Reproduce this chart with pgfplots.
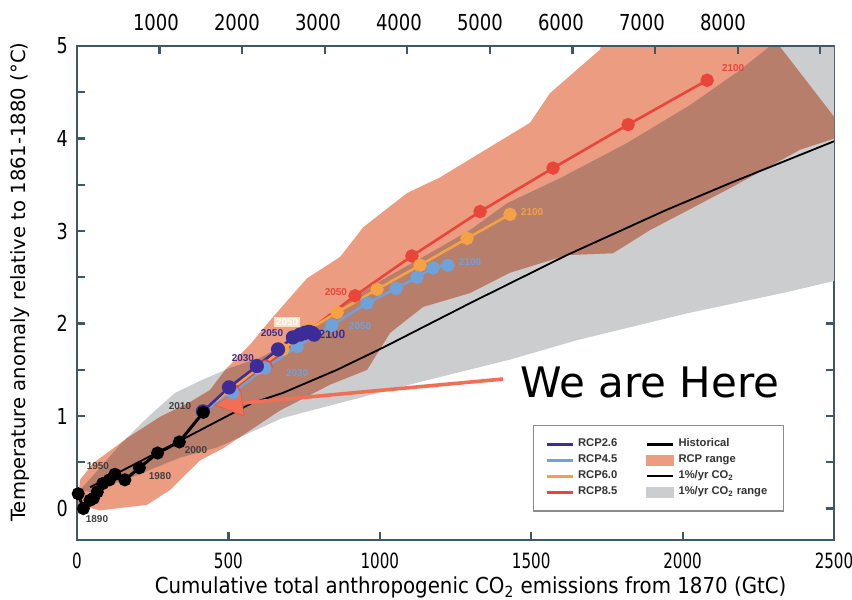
\documentclass[border=0pt]{standalone}
\usepackage{fontspec}
\setmainfont{DejaVu Sans}
\newfontfamily\xtfam{DejaVu Sans}[FakeStretch=0.72]
\newfontfamily\ttfam{DejaVu Sans}[FakeStretch=0.82]
\newfontfamily\ytfam{DejaVu Sans}[FakeStretch=0.8]
\newfontfamily\xlfam{DejaVu Sans}[FakeStretch=0.9]
\newfontfamily\legfam{Liberation Sans}
\newcommand\xtf{\xtfam\fontsize{10.5}{10.5}\selectfont}
\newcommand\ttf{\ttfam\fontsize{11}{11}\selectfont}
\newcommand\ytf{\ytfam\fontsize{11}{11}\selectfont}
\newcommand\xlf{\xlfam\fontsize{11}{11}\selectfont}
\newcommand\ylf{\fontsize{9.8}{9.8}\selectfont}
\newcommand\lgf{\legfam\bfseries\fontsize{5.6}{6}\selectfont}
\newcommand\yrf{\legfam\bfseries\fontsize{5}{5}\selectfont}
\usepackage{pgfplots}
\pgfplotsset{compat=1.18}
\definecolor{axc}{HTML}{3E5866}
\definecolor{rcpA}{HTML}{3B2C97}
\definecolor{rcpB}{HTML}{6FA2D9}
\definecolor{rcpC}{HTML}{F4A245}
\definecolor{rcpD}{HTML}{E9453A}
\definecolor{salm}{HTML}{EC9C80}
\definecolor{brwn}{HTML}{B67E6B}
\definecolor{grey1}{HTML}{CBCDCE}
\definecolor{arr}{HTML}{F26F55}
\begin{document}
\begin{tikzpicture}
\useasboundingbox (0,0) rectangle (426pt,300pt);
\begin{axis}[
 at={(38.5pt,30pt)}, anchor=south west,
 scale only axis, width=378.5pt, height=247pt,
 xmin=0, xmax=2500, ymin=-0.34, ymax=5,
 xtick={0,500,...,2500}, ytick={0,1,...,5}, minor ytick={0.5,1.5,...,4.5},
 xtick pos=left, tick align=inside,
 major tick length=4pt, minor tick length=4pt,
 tick style={color=axc, line width=1.1pt},
 axis line style={color=axc, line width=1.3pt},
 /pgf/number format/assume math mode=true,
 /pgf/number format/1000 sep={},
 xticklabel style={font=\xtf, yshift=-3pt},
 yticklabel style={font=\ytf, xshift=-1pt},
 xlabel={Cumulative total anthropogenic CO\textsubscript{2} emissions from 1870 (GtC)},
 ylabel={Temperature anomaly relative to 1861-1880 (°C)},
 xlabel style={font=\xlf, at={(axis description cs:0.52,-0.097)}, anchor=center},
 ylabel style={font=\ylf, at={(axis description cs:-0.075,0.522)}, anchor=center},
 legend columns=2,
 legend cell align=left,
 legend image code/.code={\draw[#1] (0pt,0pt) -- (13pt,0pt);},
 legend style={at={(0.602,0.233)}, anchor=north west, draw=black!45, line width=0.6pt, fill=white, font=\lgf, text=black!80, inner xsep=6pt, inner ysep=6pt, row sep=1.3pt, nodes={inner ysep=0.6pt}, /tikz/every even column/.append style={column sep=12pt}},
]
% legend entries
\addlegendimage{rcpA, line width=1.4pt}\addlegendentry{RCP2.6}
\addlegendimage{black, line width=1.6pt}\addlegendentry{Historical}
\addlegendimage{rcpB, line width=1.4pt}\addlegendentry{RCP4.5}
\addlegendimage{legend image code/.code={\fill[salm] (0pt,-2.5pt) rectangle (13pt,2.5pt);}}\addlegendentry{RCP range}
\addlegendimage{rcpC, line width=1.4pt}\addlegendentry{RCP6.0}
\addlegendimage{black, line width=0.8pt}\addlegendentry{1\%/yr CO\textsubscript{2}}
\addlegendimage{rcpD, line width=1.4pt}\addlegendentry{RCP8.5}
\addlegendimage{legend image code/.code={\fill[grey1] (0pt,-2.5pt) rectangle (13pt,2.5pt);}}\addlegendentry{1\%/yr CO\textsubscript{2} range}

% 1%/yr CO2 range (grey)
\addplot[fill=grey1, draw=none, forget plot] coordinates {
(10,0.20) (76,0.44) (142,0.69) (241,1.01) (324,1.25) (406,1.38) (505,1.52) (604,1.63) (736,1.85) (859,2.15) (991,2.44) (1143,2.72) (1298,3.01) (1420,3.30) (1595,3.57) (1816,3.95) (2024,4.36) (2190,4.74) (2289,5.00) (2289,5.2) (2520,5.2)
(2520,2.47) (2500,2.46) (2345,2.34) (2015,2.11) (1651,1.82) (1430,1.61) (1123,1.36) (902,1.17) (680,0.98) (462,0.66) (340,0.55) (175,0.33) (43,0.18)};
% RCP range (salmon)
\addplot[fill=salm, draw=none, forget plot] coordinates {
(3,0.04) (10,0.31) (53,0.49) (165,0.76) (274,0.99) (373,1.15) (439,1.28) (495,1.52) (571,1.77) (647,2.07) (760,2.49) (869,2.72) (945,3.04) (1090,3.41) (1199,3.58) (1496,4.17) (1562,4.49) (1727,4.96) (1747,5.2) (2272,5.2) (2520,4.15)
(2520,4.02) (2388,3.88) (2166,3.48) (1892,3.01) (1770,2.76) (1618,2.74) (1430,2.55) (1298,2.33) (1143,2.18) (1034,1.90) (958,1.50) (836,1.34) (670,1.06) (482,0.65) (406,0.52) (307,0.20) (231,0.04) (76,-0.02)};
% overlap of the two ranges
\addplot[fill=brwn, draw=none, forget plot] coordinates {
(10,0.20) (76,0.44) (142,0.69) (165,0.76) (274,0.99) (373,1.15) (439,1.28) (490,1.50) (505,1.52) (604,1.63) (736,1.85) (859,2.15) (991,2.44) (1143,2.72) (1298,3.01) (1420,3.30) (1595,3.57) (1816,3.95) (2024,4.36) (2190,4.74) (2289,5.0) (2289,5.13) (2520,4.15)
(2520,4.02) (2388,3.88) (2166,3.48) (1892,3.01) (1770,2.76) (1618,2.74) (1430,2.55) (1298,2.33) (1143,2.18) (1034,1.90) (958,1.50) (836,1.34) (670,1.06) (537,0.77) (462,0.66) (340,0.55) (175,0.33) (43,0.18)};
% 1%/yr CO2
\addplot[black, line width=0.9pt, forget plot] coordinates {
(43,0.23) (350,0.75) (578,1.14) (680,1.25) (859,1.50) (1011,1.74) (1298,2.22) (1618,2.74) (1948,3.23) (2166,3.53) (2500,3.97)};
% RCP8.5
\addplot[rcpD, line width=1.3pt, mark=*, mark size=2.7pt, forget plot] coordinates {
(416,1.05) (515,1.28) (624,1.54) (753,1.89) (918,2.30) (1106,2.73) (1331,3.21) (1572,3.68) (1820,4.15) (2081,4.63)};
% RCP6.0
\addplot[rcpC, line width=1.3pt, mark=*, mark size=2.7pt, forget plot] coordinates {
(416,1.05) (505,1.28) (598,1.52) (680,1.72) (763,1.93) (859,2.12) (991,2.37) (1133,2.63) (1288,2.92) (1430,3.18)};
% RCP4.5
\addplot[rcpB, line width=1.3pt, mark=*, mark size=2.7pt, forget plot] coordinates {
(416,1.05) (515,1.25) (621,1.52) (727,1.75) (842,1.98) (958,2.22) (1054,2.38) (1123,2.50) (1176,2.60) (1225,2.63)};
% RCP2.6
\addplot[rcpA, line width=1.3pt, mark=*, mark size=2.9pt, forget plot] coordinates {
(416,1.05) (502,1.31) (594,1.54) (664,1.72) (713,1.85) (736,1.88) (753,1.90) (766,1.91) (776,1.90) (783,1.88)};
% Historical
\addplot[black, line width=1.5pt, mark=*, mark size=2.5pt, forget plot] coordinates {
(4,0.16) (21,0.00) (43,0.09) (54,0.11) (67,0.18) (85,0.27) (107,0.31) (125,0.37) (158,0.31) (206,0.44) (266,0.60) (338,0.72) (417,1.04)};

% year labels
\node[font=\yrf, text=black!75] at (axis cs:66,-0.11) {1890};
\node[font=\yrf, text=black!75] at (axis cs:69,0.46) {1950};
\node[font=\yrf, text=black!75] at (axis cs:274,0.35) {1980};
\node[font=\yrf, text=black!75] at (axis cs:393,0.63) {2000};
\node[font=\yrf, text=black!75] at (axis cs:340,1.11) {2010};
\node[font=\yrf, text=rcpA] at (axis cs:548,1.63) {2030};
\node[font=\yrf, text=rcpA] at (axis cs:644,1.90) {2050};
\node[font=\legfam\bfseries\fontsize{6}{6}\selectfont, text=rcpA] at (axis cs:842,1.88) {2100};
\node[font=\yrf, text=rcpB] at (axis cs:727,1.46) {2030};
\node[font=\yrf, text=rcpB] at (axis cs:935,1.97) {2050};
\node[font=\yrf, text=rcpB] at (axis cs:1298,2.66) {2100};
\node[font=\yrf, text=white, fill=rcpC!30, inner sep=0.8pt] at (axis cs:694,2.02) {2050};
\node[font=\yrf, text=rcpC] at (axis cs:1503,3.21) {2100};
\node[font=\yrf, text=rcpD] at (axis cs:855,2.34) {2050};
\node[font=\yrf, text=rcpD] at (axis cs:2167,4.76) {2100};

% annotation arrow (line + explicit head)
\draw[arr, line width=1.8pt] (axis cs:1407,1.40) -- (axis cs:545,1.14);
\filldraw[fill=arr, draw=arr!85!black, line width=0.3pt, line join=round] (axis cs:455,1.12) -- (axis cs:552,1.00) -- (axis cs:540,1.29) -- cycle;
\node[anchor=base west, inner sep=0pt, font=\fontsize{21}{21}\selectfont] at (axis cs:1463,1.205) {We are Here};
\end{axis}
% top tick marks (GtCO2 scale)
\begin{axis}[
 at={(38.5pt,30pt)}, anchor=south west,
 scale only axis, width=378.5pt, height=247pt,
 xmin=0, xmax=9166.67, ymin=-0.34, ymax=5,
 axis x line*=top, axis y line=none,
 xtick={1000,2000,...,9000}, xticklabels={},
 tick align=inside, major tick length=4pt,
 tick style={color=axc, line width=1.1pt},
 axis line style={color=axc, line width=1.3pt},
]
\end{axis}
% top tick labels
\begin{axis}[
 at={(38.5pt,30pt)}, anchor=south west,
 scale only axis, width=378.5pt, height=247pt,
 xmin=25, xmax=9371, ymin=-0.34, ymax=5,
 axis x line*=top, axis y line=none,
 x axis line style={draw=none},
 xtick={1000,2000,...,8000}, major tick length=0pt,
 /pgf/number format/assume math mode=true,
 /pgf/number format/1000 sep={},
 xticklabel style={font=\ttf, yshift=4pt},
]
\end{axis}
\end{tikzpicture}
\end{document}
